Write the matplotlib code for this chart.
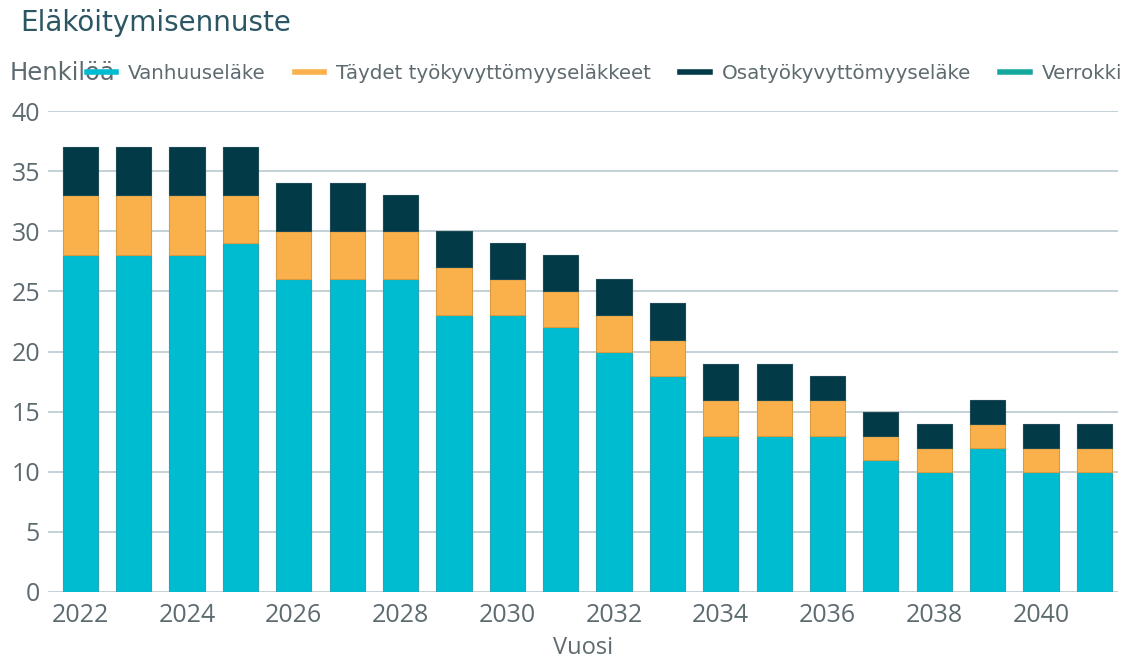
import matplotlib
matplotlib.use('Agg')
import matplotlib.pyplot as plt
from matplotlib.lines import Line2D
import numpy as np

# Data
years = list(range(2022, 2042))
vanhuus = [28, 28, 28, 29, 26, 26, 26, 23, 23, 22, 20, 18, 13, 13, 13, 11, 10, 12, 10, 10]
taydet = [5, 5, 5, 4, 4, 4, 4, 4, 3, 3, 3, 3, 3, 3, 3, 2, 2, 2, 2, 2]
osa = [4, 4, 4, 4, 4, 4, 3, 3, 3, 3, 3, 3, 3, 3, 2, 2, 2, 2, 2, 2]
series_names = ['Vanhuuseläke', 'Täydet työkyvyttömyyseläkkeet', 'Osatyökyvyttömyyseläke', 'Verrokki']
yticks = [0, 5, 10, 15, 20, 25, 30, 35, 40]
xticks = list(range(2022, 2042, 2))

# Colors
c_cyan = '#00bcd1'
c_orange = '#fbb14b'
c_dark = '#023a48'
c_teal = '#14a89e'
c_grid = '#b9c8ce'
c_text = '#5d6b70'
c_title = '#2b5663'

plt.rcParams['font.family'] = ['Open Sans', 'DejaVu Sans']

fig = plt.figure(figsize=(11.24, 6.62), dpi=100)
ax = fig.add_axes([0.043, 0.106, 0.952, 0.726])

x = np.array(years)
v = np.array(vanhuus)
t = np.array(taydet)
o = np.array(osa)
w = 0.66
ax.bar(x, v, width=w, color=c_cyan, edgecolor='#2aa3b3', linewidth=0.8, zorder=3)
ax.bar(x, t, width=w, bottom=v, color=c_orange, edgecolor='#d99a44', linewidth=0.8, zorder=3)
ax.bar(x, o, width=w, bottom=v + t, color=c_dark, edgecolor='#1d4a55', linewidth=0.8, zorder=3)
# Verrokki: no visible data, legend only
verrokki_line, = ax.plot([], [], color=c_teal, linewidth=4)

ax.set_xlim(2021.4, 2041.45)
ax.set_ylim(0, 40)
ax.set_yticks(yticks)
ax.set_xticks(xticks)
ax.tick_params(axis='both', length=0, labelsize=18, colors=c_text)
ax.tick_params(axis='y', pad=6)
ax.tick_params(axis='x', pad=8)
ax.yaxis.grid(True, color=c_grid, linewidth=1.2, zorder=0)
for s in ax.spines.values():
    s.set_visible(False)

ax.set_xlabel('Vuosi', fontsize=17, color=c_text, labelpad=6)

fig.text(0.018, 0.965, 'Eläköitymisennuste', fontsize=20, color=c_title, va='center',
         family='DejaVu Sans')
fig.text(0.009, 0.889, 'Henkilöä', fontsize=17.5, color=c_text, va='center', family='DejaVu Sans')

handles = [Line2D([], [], color=c_cyan, linewidth=4),
           Line2D([], [], color=c_orange, linewidth=4),
           Line2D([], [], color=c_dark, linewidth=4),
           verrokki_line]
leg = fig.legend(handles, series_names, loc='center left', bbox_to_anchor=(0.077, 0.889),
                 ncol=4, frameon=False, prop={'family': 'DejaVu Sans', 'size': 14.3},
                 handlelength=1.5, handletextpad=0.6, columnspacing=1.45,
                 borderaxespad=0, borderpad=0)
for txt in leg.get_texts():
    txt.set_color(c_text)

fig.savefig('out.png', dpi=100)
